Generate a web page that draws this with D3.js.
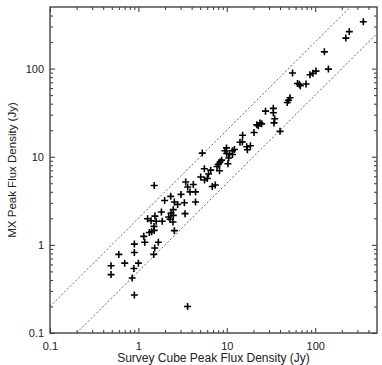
<!DOCTYPE html>
<html>
<head>
<meta charset="utf-8">
<script src="https://cdn.jsdelivr.net/npm/d3@7"></script>
<style>
  body { margin: 0; background: #fff; }
  text { font-family: "Liberation Sans", Arial, sans-serif; }
</style>
</head>
<body>
<div id="my_dataviz"></div>
<script>
// survey cube peak flux (x) vs MX peak flux (y), Jy
const surveyFlux = [0.90, 3.6, 0.49, 0.49, 0.60, 0.70, 0.85, 0.89, 0.90, 0.90,
  1.0, 1.15, 1.18, 1.53, 1.49, 1.68, 1.50, 1.51, 1.41, 1.33,
  2.55, 1.27, 1.39, 1.59, 1.86, 1.54, 1.82, 2.20, 2.28, 2.46,
  2.48, 2.34, 2.48, 3.37, 1.98, 2.32, 2.55, 2.78, 3.31, 4.43,
  3.03, 1.51, 3.43, 3.61, 4.18, 3.84, 4.43, 5.07, 5.60, 6.02,
  6.21, 6.58, 5.57, 5.28, 6.85, 7.41, 7.75, 8.01, 8.38, 8.74,
  8.27, 9.54, 9.92, 9.97, 10.7, 10.5, 10.3, 11.6, 12.2, 11.6,
  14.1, 15.0, 15.1, 16.8, 17.1, 18.5, 20.3, 21.8, 22.7, 23.7,
  24.8, 27.4, 33.6, 33.6, 34.8, 34.2, 40.0, 48.3, 49.9, 51.9,
  55.4, 63.1, 66.1, 67.8, 78.7, 87.3, 94.0, 102, 141, 127,
  222, 243, 350];
const mxFlux = [0.27, 0.20, 0.58, 0.46, 0.78, 0.62, 0.42, 0.54, 1.02, 0.82,
  0.62, 1.25, 1.07, 0.92, 0.78, 1.07, 1.62, 1.46, 1.41, 1.38,
  1.45, 1.98, 1.88, 1.85, 1.85, 2.12, 2.36, 2.07, 1.95, 1.82,
  2.51, 2.30, 2.16, 2.26, 3.19, 3.55, 3.06, 2.88, 3.01, 3.07,
  3.74, 4.72, 5.17, 4.54, 4.85, 3.99, 3.99, 5.89, 5.45, 5.67,
  6.37, 7.04, 7.30, 11.0, 4.60, 4.78, 7.75, 8.20, 8.71, 9.15,
  6.94, 11.7, 12.6, 10.9, 10.8, 9.67, 8.31, 11.7, 12.1, 10.6,
  14.6, 14.7, 17.5, 13.0, 12.0, 13.3, 18.8, 23.0, 22.5, 24.2,
  23.6, 32.9, 35.4, 31.6, 27.0, 24.2, 19.4, 41.3, 43.8, 46.7,
  89.0, 67.8, 66.4, 63.9, 66.8, 85.1, 88.5, 93.7, 98.7, 155,
  222, 263, 340];

// dashed guide lines y = ratio * x
const ratios = [2, 0.5];

const tickValues = [0.1, 1, 10, 100];
const tickLabels = ["0.1", "1", "10", "100"];
const minorTicks = [0.2,0.3,0.4,0.5,0.6,0.7,0.8,0.9, 2,3,4,5,6,7,8,9,
  20,30,40,50,60,70,80,90, 200,300,400];

const margin = {top: 7, right: 5, bottom: 32, left: 50},
    width = 382 - margin.left - margin.right,
    height = 365 - margin.top - margin.bottom;

const svg = d3.select("#my_dataviz")
  .append("svg")
    .attr("width", width + margin.left + margin.right)
    .attr("height", height + margin.top + margin.bottom)
  .append("g")
    .attr("transform", `translate(${margin.left},${margin.top})`);

const x = d3.scaleLog().domain([0.1, 500]).range([0, width]);
const y = d3.scaleLog().domain([0.1, 500]).range([height, 0]);

// major + minor ticks on all four sides, pointing inward
function addAxis(axisFn, scale, transform, vals, size, labels, pad) {
  const g = svg.append("g")
    .attr("transform", transform)
    .call(axisFn(scale).tickValues(vals).tickSize(-size).tickPadding(pad || 3)
      .tickFormat(labels ? (d, i) => labels[i] : ""));
  g.select(".domain").remove();
  g.selectAll("line").attr("stroke", "#333");
  g.selectAll("text").style("font-size", "11px").attr("fill", "#222");
  return g;
}

addAxis(d3.axisBottom, x, `translate(0,${height})`, tickValues, 5, tickLabels, 9);
addAxis(d3.axisBottom, x, `translate(0,${height})`, minorTicks, 3);
addAxis(d3.axisTop, x, "translate(0,0)", tickValues, 5);
addAxis(d3.axisTop, x, "translate(0,0)", minorTicks, 3);
addAxis(d3.axisLeft, y, "translate(0,0)", tickValues, 5, tickLabels, 6);
addAxis(d3.axisLeft, y, "translate(0,0)", minorTicks, 3);
addAxis(d3.axisRight, y, `translate(${width},0)`, tickValues, 5);
addAxis(d3.axisRight, y, `translate(${width},0)`, minorTicks, 3);

// clip for the guide lines
svg.append("clipPath").attr("id", "clip")
  .append("rect").attr("width", width).attr("height", height);

ratios.forEach(function(r) {
  const xs = [0.1 / r, 500 / r].map(v => Math.max(0.1, Math.min(500, v)));
  svg.append("path")
    .datum(xs)
    .attr("clip-path", "url(#clip)")
    .attr("d", d3.line()
      .x(function(d) { return x(d) })
      .y(function(d) { return y(d * r) })
    )
    .attr("stroke", "#555")
    .attr("stroke-width", 0.9)
    .attr("stroke-dasharray", "2,2")
    .style("fill", "none");
});

// plus markers
svg.append("g")
  .selectAll("path")
  .data(surveyFlux)
  .enter()
  .append("path")
    .attr("transform", (d, i) => `translate(${x(d)},${y(mxFlux[i])})`)
    .attr("d", "M-3.5,0H3.5M0,-3.5V3.5")
    .attr("stroke", "#000")
    .attr("stroke-width", 1.6);

// frame
svg.append("rect")
  .attr("width", width)
  .attr("height", height)
  .attr("fill", "none")
  .attr("stroke", "#444")
  .attr("stroke-width", 1.4);

// X axis label
svg.append("text")
  .attr("text-anchor", "middle")
  .attr("x", width / 2)
  .attr("y", height + 29)
  .style("font-size", "12px")
  .attr("fill", "#222")
  .text("Survey Cube Peak Flux Density (Jy)");

// Y axis label
svg.append("text")
  .attr("text-anchor", "middle")
  .attr("transform", "rotate(-90)")
  .attr("x", -height / 2)
  .attr("y", -34)
  .style("font-size", "11.5px")
  .attr("fill", "#222")
  .text("MX Peak Flux Density (Jy)");
</script>
</body>
</html>
